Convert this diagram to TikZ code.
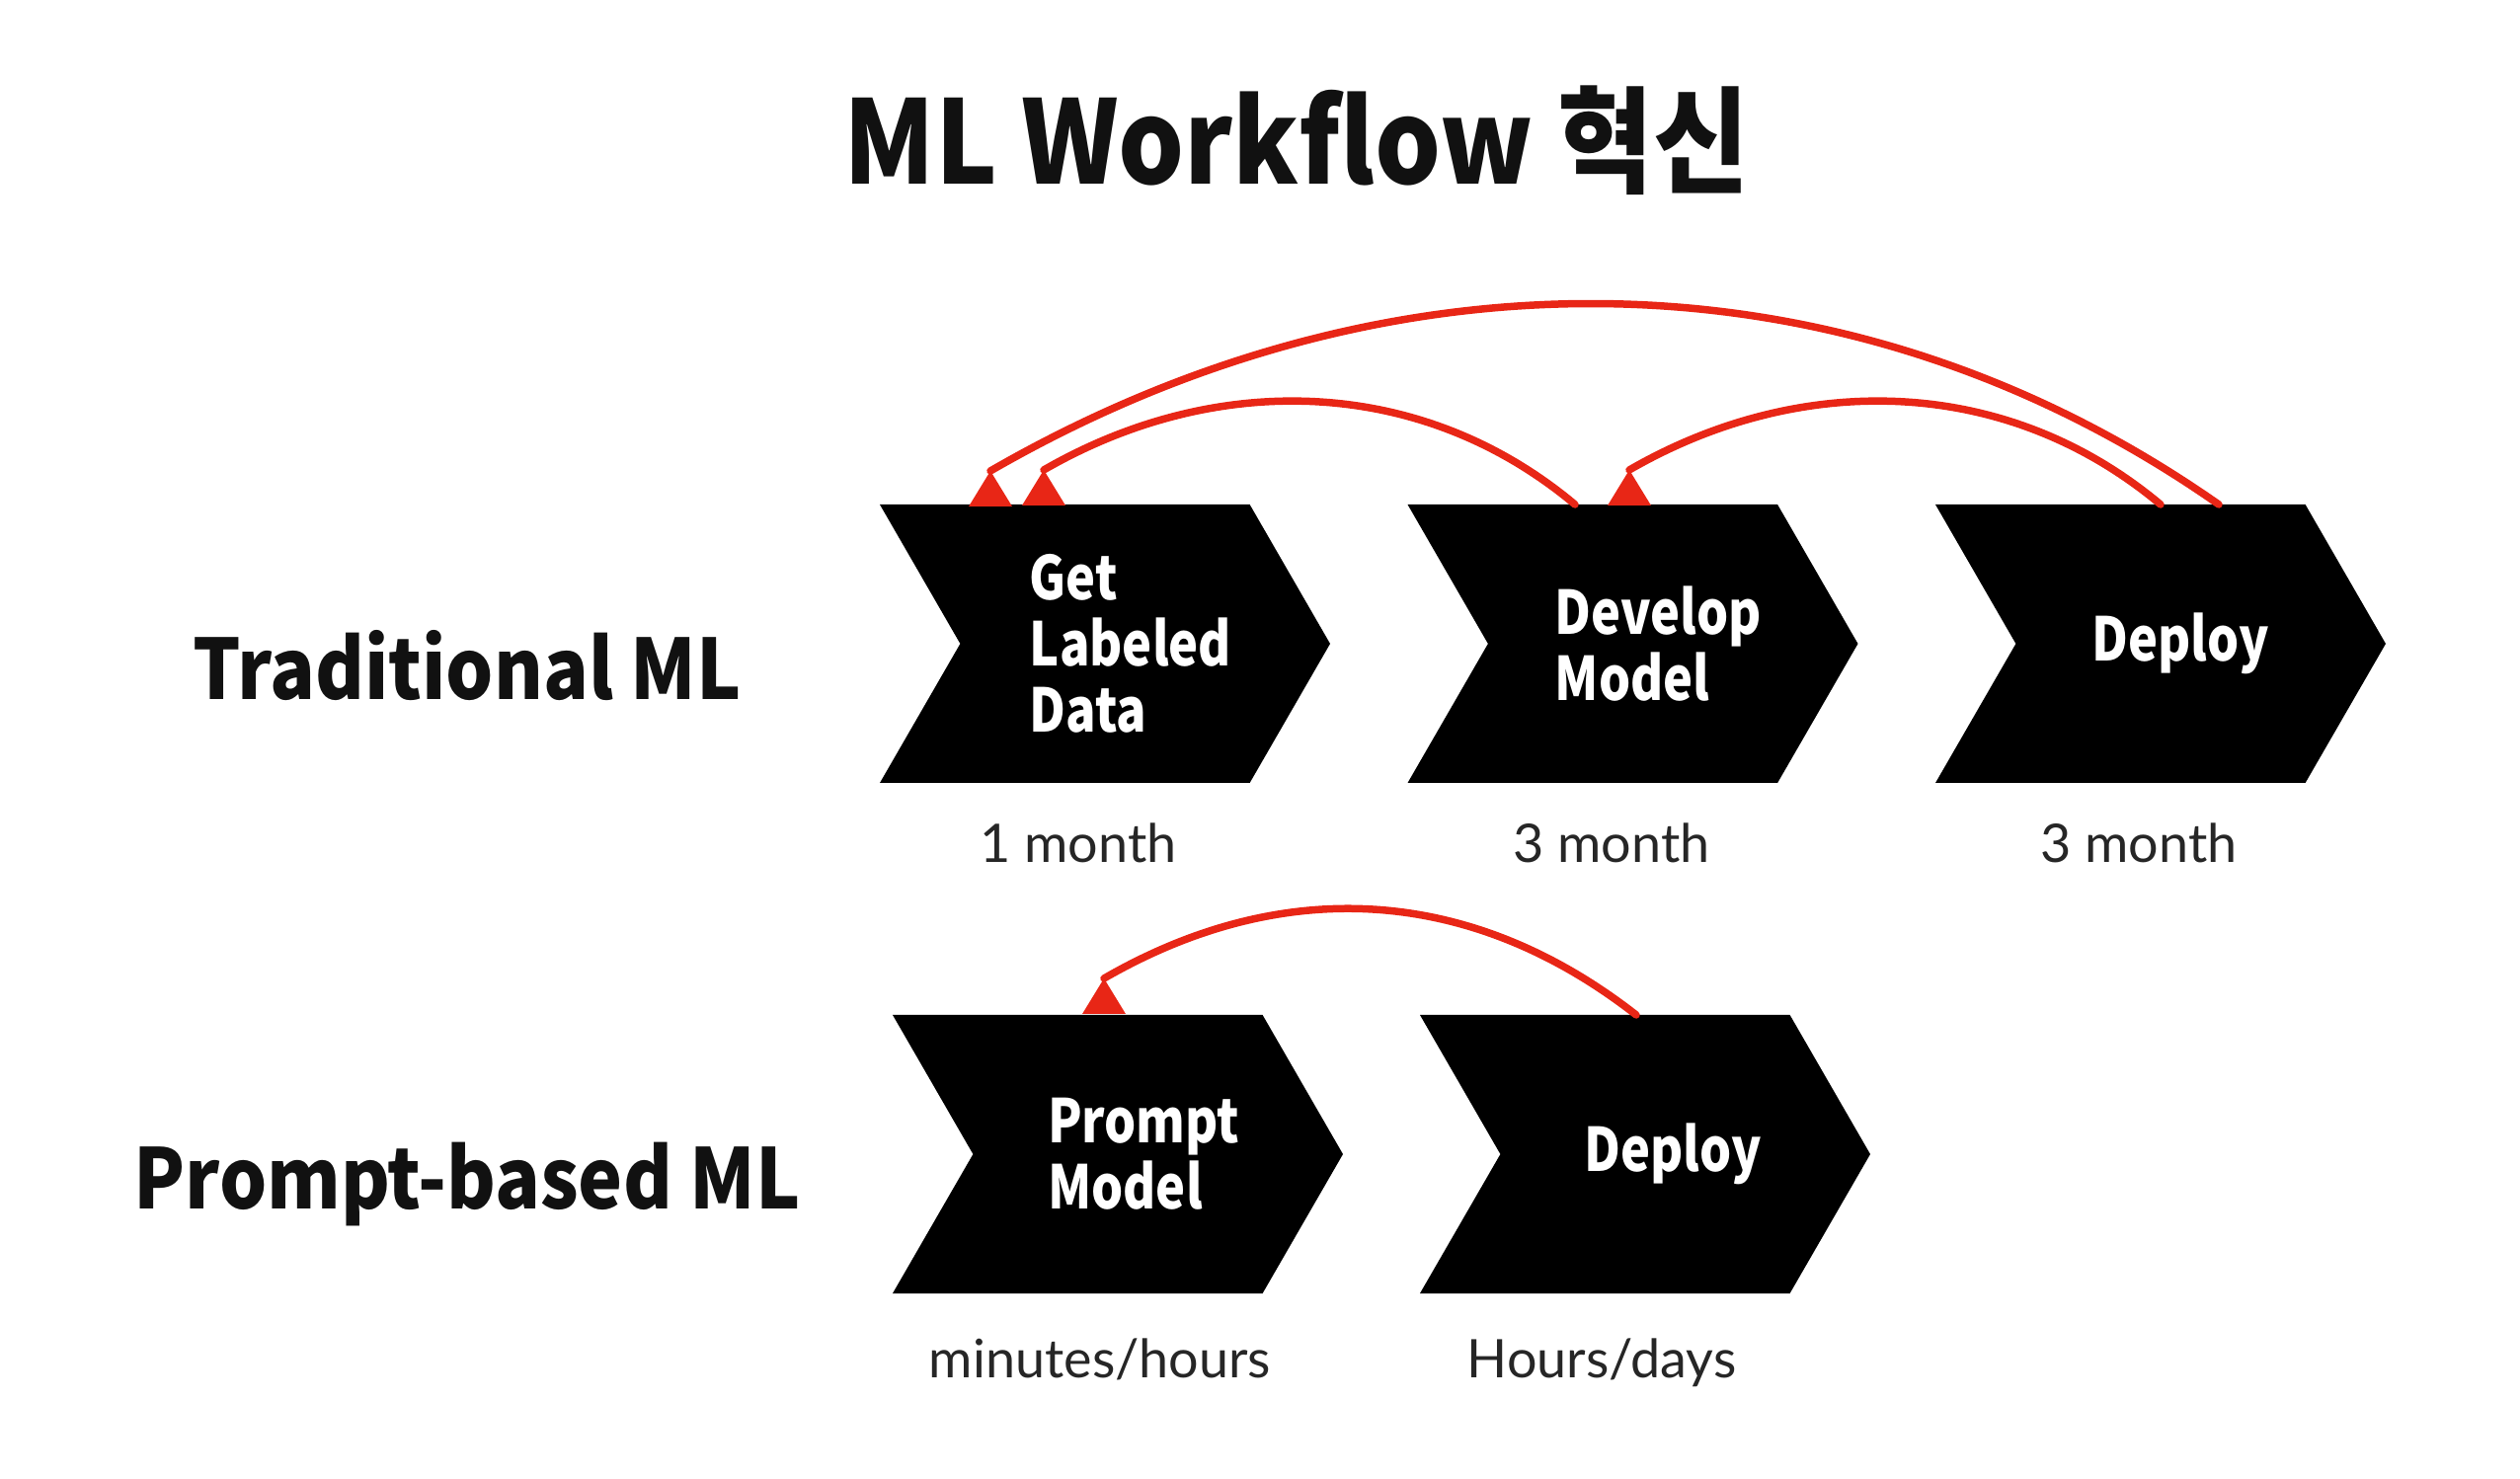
\documentclass[tikz,border=0pt]{standalone}
\usepackage{fontspec}
\setmainfont{Noto Sans CJK KR}
\newfontfamily\headfont{Noto Sans CJK KR}[FakeStretch=0.9]
\newfontfamily\stagefont{Noto Sans CJK KR}[FakeStretch=0.83]
\newfontfamily\latofont{Lato}
\usetikzlibrary{shapes.symbols}

\definecolor{loopred}{RGB}{232,38,22}
\definecolor{timegray}{RGB}{38,38,38}
\definecolor{headblack}{RGB}{17,17,17}

\begin{document}
\begin{tikzpicture}[x=0.015cm, y=0.015cm,
	stage/.style={signal, signal from=west, signal to=east, signal pointer angle=120,
		fill=black, minimum width=6.84cm, minimum height=4.23cm, inner sep=0pt},
	stagetext/.style={text=white, align=left, inner sep=0pt,
		font=\stagefont\bfseries\fontsize{26}{28.5}\selectfont},
	rowname/.style={anchor=base, text=headblack, font=\headfont\bfseries\fontsize{36}{40}\selectfont},
	duration/.style={anchor=base, text=timegray, font=\latofont\fontsize{23}{26}\selectfont},
	redo/.style={draw=loopred, line width=3.2pt, line cap=round},
	uptip/.pic={\fill[loopred] (-22,-36) -- (0,0) -- (22,-36) -- cycle;}]
	\useasboundingbox (0,0) rectangle (2552,1498);

	\node[anchor=base, text=headblack, font=\headfont\bfseries\fontsize{50}{56}\selectfont] (title) at (1313,1311) {ML Workflow 혁신};

	% traditional
	\node[rowname] (trad) at (473,789) {Traditional ML};
	\node[stage] (data) at (1119,846) {};
	\node[stage] (dev) at (1653.5,846) {};
	\node[stage] (dep) at (2188,846) {};
	\node[stagetext] (datatext) at ([shift={(26,0)}]data.center) {Get\\Labeled\\Data};
	\node[stagetext] (devtext) at ([shift={(26,0)}]dev.center) {Develop\\Model};
	\node[stagetext] (deptext) at ([shift={(20,0)}]dep.center) {Deploy};
	\node[duration] (tdata) at (1092,624) {1 month};
	\node[duration] (tdev) at (1632,624) {3 month};
	\node[duration] (tdep) at (2166,624) {3 month};

	% prompt based
	\node[rowname] (prm) at (473,273) {Prompt-based ML};
	\node[stage] (pmodel) at (1132,329) {};
	\node[stage] (pdep) at (1666,329) {};
	\node[stagetext] (pmodeltext) at ([shift={(26,0)}]pmodel.center) {Prompt\\Model};
	\node[stagetext] (pdeptext) at ([shift={(28,0)}]pdep.center) {Deploy};
	\node[duration] (tpmodel) at (1114,102) {minutes/hours};
	\node[duration] (tpdep) at (1622,102) {Hours/days};

	% back loops
	\coordinate (devout) at ([shift={(-58.5,141)}]dev.center);
	\coordinate (depout1) at ([shift={(0,141)}]dep.center);
	\coordinate (depout2) at ([shift={(59,141)}]dep.center);
	\coordinate (pdepout) at ([shift={(-9,141)}]pdep.center);
	\coordinate (datain1) at ([shift={(-62,176)}]data.center);
	\coordinate (datain2) at ([shift={(-116,175)}]data.center);
	\coordinate (devin) at ([shift={(-3.5,176)}]dev.center);
	\coordinate (pmodelin) at ([shift={(-14,178)}]pmodel.center);

	\draw[redo] (devout) to[out=140, in=30, looseness=0.96] (datain1);
	\draw[redo] (depout1) to[out=140, in=30, looseness=0.96] (devin);
	\draw[redo] (depout2) to[out=145, in=30, looseness=0.95] (datain2);
	\draw[redo] (pdepout) to[out=142, in=30, looseness=1.0] (pmodelin);
	\pic at (datain1) {uptip};
	\pic at (datain2) {uptip};
	\pic at (devin) {uptip};
	\pic at (pmodelin) {uptip};
\end{tikzpicture}
\end{document}
